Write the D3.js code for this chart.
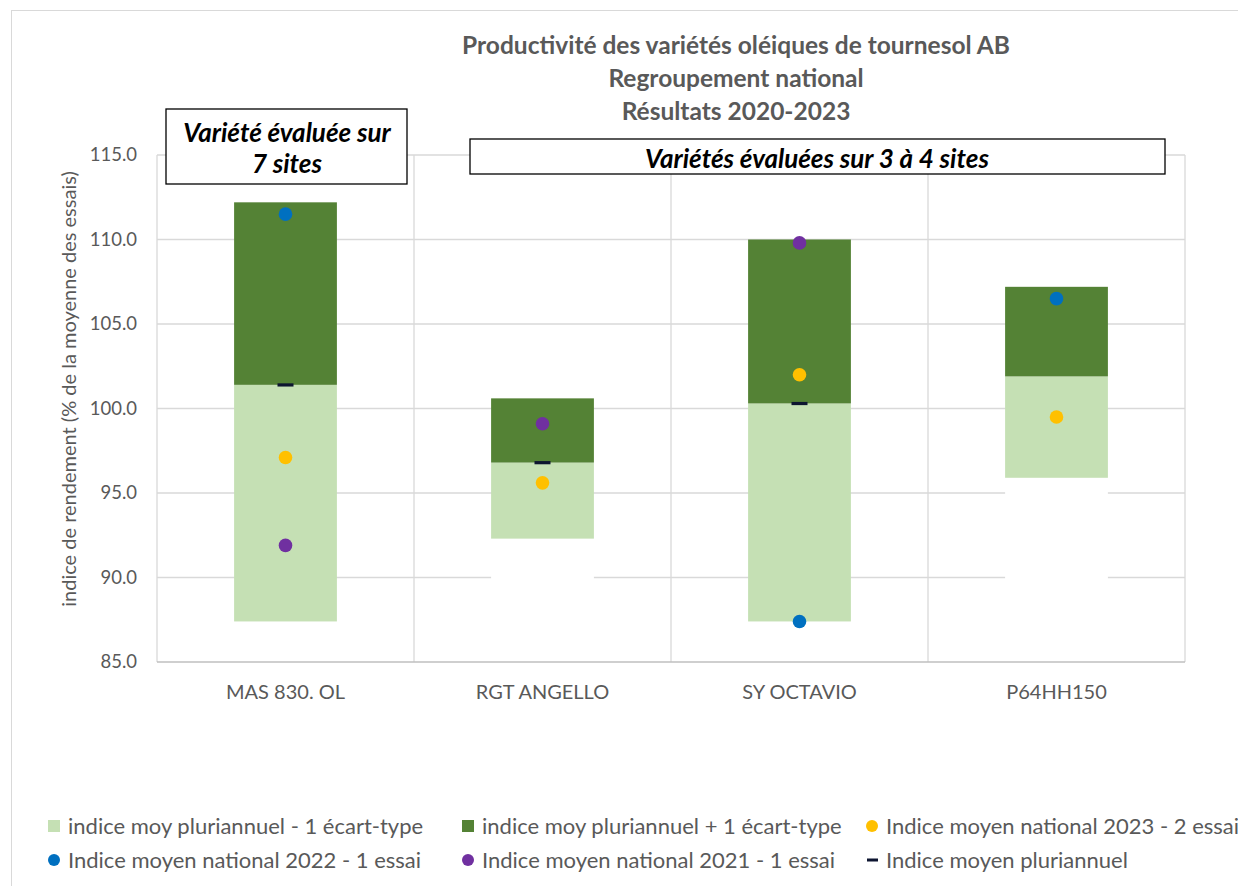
<!DOCTYPE html>
<html><head><meta charset="utf-8">
<script src="https://cdn.jsdelivr.net/npm/d3@7"></script>
<style>
body{margin:0;background:#fff;overflow:hidden;}
svg{display:block;font-family:Lato,"Open Sans",sans-serif;}
</style></head>
<body><svg id="c" width="1238" height="886"></svg>
<script>
const categories = ["MAS 830. OL","RGT ANGELLO","SY OCTAVIO","P64HH150"];
const lowerSd   = [87.4, 92.3, 87.4, 95.9];
const meanPluri = [101.4, 96.8, 100.3, 101.9];
const upperSd   = [112.2, 100.6, 110.0, 107.2];
const meanDash  = [101.4, 96.8, 100.3, null];
const idx2023   = [97.1, 95.6, 102.0, 99.5];
const idx2022   = [111.5, null, 87.4, 106.5];
const idx2021   = [91.9, 99.1, 109.8, null];
const yTicks    = [85, 90, 95, 100, 105, 110, 115];
const titleLines = ["Productivité des variétés oléiques de tournesol AB","Regroupement national","Résultats 2020-2023"];

const svg = d3.select("#c");
const grey = "#595959";
// outer border
svg.append("rect").attr("x",11.5).attr("y",10.5).attr("width",1240).attr("height",890)
  .attr("fill","none").attr("stroke","#d9d9d9");

const x = d3.scaleBand().domain(categories).range([157,1185]).padding(0);
const y = d3.scaleLinear().domain([85,115]).range([662,155]);

// horizontal gridlines
svg.append("g").selectAll("line").data(yTicks.slice(1)).join("line")
  .attr("x1",157).attr("x2",1185).attr("y1",d=>y(d)).attr("y2",d=>y(d))
  .attr("stroke","#d9d9d9").attr("stroke-width",1.3);
// vertical gridlines at category boundaries
const bounds = categories.map(c=>x(c)).concat([x(categories[3])+x.bandwidth()]);
svg.append("g").selectAll("line").data(bounds).join("line")
  .attr("x1",d=>d).attr("x2",d=>d).attr("y1",y(115)).attr("y2",y(85))
  .attr("stroke","#d9d9d9").attr("stroke-width",1.3);
// bottom axis line
svg.append("line").attr("x1",157).attr("x2",1185).attr("y1",y(85)).attr("y2",y(85))
  .attr("stroke","#bfbfbf").attr("stroke-width",1.5);

// y axis labels
const yAxis = d3.axisLeft(y).tickValues(yTicks).tickFormat(d3.format(".1f")).tickSize(0).tickPadding(20);
const ga = svg.append("g").attr("transform","translate(157,0)").call(yAxis);
ga.select(".domain").remove();
ga.selectAll("text").attr("font-size",18.5).attr("fill",grey).attr("font-family","Lato");

// x axis labels
const xAxis = d3.axisBottom(x).tickSize(0).tickPadding(23);
const gx = svg.append("g").attr("transform",`translate(0,${y(85)})`).call(xAxis);
gx.select(".domain").remove();
gx.selectAll("text").attr("font-size",20).attr("fill",grey).attr("font-family","Lato");

const bw = x.bandwidth()*0.4;
const cx = c => x(c)+x.bandwidth()/2;

// stacked bars
const rows = categories.map((c,i)=>({c,lo:lowerSd[i],m:meanPluri[i],up:upperSd[i]}));
const gb = svg.append("g");
gb.selectAll(".base").data(rows).join("rect")
  .attr("x",d=>cx(d.c)-bw/2).attr("width",bw).attr("y",d=>y(d.lo)).attr("height",d=>y(85)-y(d.lo)-1)
  .attr("fill","#ffffff");
gb.selectAll(".lo").data(rows).join("rect")
  .attr("x",d=>cx(d.c)-bw/2).attr("width",bw).attr("y",d=>y(d.m)).attr("height",d=>y(d.lo)-y(d.m))
  .attr("fill","#c5e0b4");
gb.selectAll(".hi").data(rows).join("rect")
  .attr("x",d=>cx(d.c)-bw/2).attr("width",bw).attr("y",d=>y(d.up)).attr("height",d=>y(d.m)-y(d.up))
  .attr("fill","#548235");

// mean dash
svg.append("g").selectAll("rect").data(categories.map((c,i)=>({c,v:meanDash[i]})).filter(d=>d.v!=null)).join("rect")
  .attr("x",d=>cx(d.c)-8).attr("width",16).attr("y",d=>y(d.v)-1.5).attr("height",3.2)
  .attr("fill","#0d1530");

// points
function dots(arr,color){
  svg.append("g").selectAll("circle").data(categories.map((c,i)=>({c,v:arr[i]})).filter(d=>d.v!=null)).join("circle")
    .attr("cx",d=>cx(d.c)).attr("cy",d=>y(d.v)).attr("r",6.8).attr("fill",color);
}
dots(idx2023,"#ffc000");
dots(idx2022,"#0070c0");
dots(idx2021,"#7030a0");

// title
svg.append("g").selectAll("text").data(titleLines).join("text")
  .attr("x",736).attr("y",(d,i)=>54+i*33).attr("text-anchor","middle")
  .attr("font-size",24.5).attr("font-weight","bold").attr("fill",grey).text(d=>d);

// y title
svg.append("text").attr("transform","translate(76,389) rotate(-90)").attr("text-anchor","middle")
  .attr("font-size",20).attr("fill",grey).text("indice de rendement (% de la moyenne des essais)");

// annotation boxes
svg.append("rect").attr("x",166).attr("y",109).attr("width",241).attr("height",75)
  .attr("fill","#fff").attr("stroke","#000").attr("stroke-width",1.3);
svg.append("text").attr("x",287).attr("y",142).attr("text-anchor","middle").attr("font-size",26)
  .attr("font-weight","bold").attr("font-style","italic").attr("fill","#000").text("Variété évaluée sur");
svg.append("text").attr("x",287).attr("y",173).attr("text-anchor","middle").attr("font-size",26)
  .attr("font-weight","bold").attr("font-style","italic").attr("fill","#000").text("7 sites");
svg.append("rect").attr("x",470).attr("y",139).attr("width",695).attr("height",35)
  .attr("fill","#fff").attr("stroke","#000").attr("stroke-width",1.3);
svg.append("text").attr("x",817).attr("y",168).attr("text-anchor","middle").attr("font-size",26)
  .attr("font-weight","bold").attr("font-style","italic").attr("fill","#000").text("Variétés évaluées sur 3 à 4 sites");

// legend
const legend = [
  {t:"indice moy pluriannuel - 1 écart-type", k:"sq", c:"#c5e0b4", x:48, y:826},
  {t:"indice moy pluriannuel + 1 écart-type", k:"sq", c:"#548235", x:462, y:826},
  {t:"Indice moyen national 2023 - 2 essais", k:"ci", c:"#ffc000", x:866, y:826},
  {t:"Indice moyen national 2022 - 1 essai", k:"ci", c:"#0070c0", x:48, y:860},
  {t:"Indice moyen national 2021 - 1 essai", k:"ci", c:"#7030a0", x:462, y:860},
  {t:"Indice moyen pluriannuel", k:"dash", c:"#0d1530", x:866, y:860}
];
const gl = svg.append("g");
legend.forEach(d=>{
  if(d.k==="sq") gl.append("rect").attr("x",d.x).attr("y",d.y-6).attr("width",12).attr("height",12).attr("fill",d.c);
  else if(d.k==="ci") gl.append("circle").attr("cx",d.x+6).attr("cy",d.y).attr("r",6).attr("fill",d.c);
  else gl.append("rect").attr("x",d.x+1).attr("y",d.y-1.5).attr("width",11).attr("height",3).attr("fill",d.c);
  gl.append("text").attr("x",d.x+20).attr("y",d.y+7.5).attr("font-size",22).attr("fill",grey).text(d.t);
});
</script></body></html>
